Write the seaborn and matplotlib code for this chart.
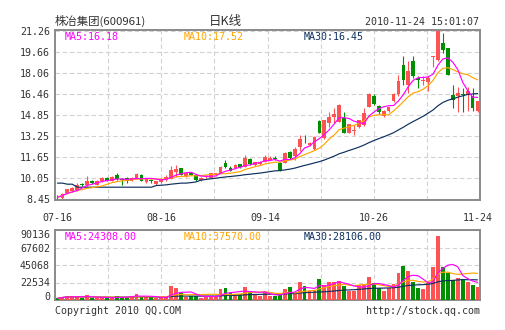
import numpy as np
import pandas as pd
import matplotlib
matplotlib.use("Agg")
import matplotlib.pyplot as plt
import seaborn as sns

# ---------------- data ----------------
dates = ["07-16", "08-16", "09-14", "10-26", "11-24"]
date_idx = [0, 21, 42, 64, 85]

open_ = [8.62, 8.50, 8.87, 9.05, 9.15, 9.58, 9.50, 9.85, 9.55, 9.80,
         10.05, 9.85, 10.30, 9.98, 10.05, 9.85, 10.06, 10.30, 9.75, 9.90,
         9.58, 9.72, 9.90, 10.00, 10.50, 10.80, 10.15, 10.45, 10.30, 9.90,
         10.10, 10.08, 10.25, 10.42, 11.20, 10.85, 10.80, 11.10, 10.92, 11.50,
         11.05, 11.10, 11.30, 11.45, 11.55, 11.20, 11.23, 12.05, 11.70, 12.40,
         12.90, 12.57, 12.25, 14.40, 13.10, 14.23, 14.73, 14.35, 14.60, 13.50,
         13.60, 13.97, 14.10, 15.50, 16.33, 15.57, 14.76, 15.14, 15.90, 16.46,
         18.70, 17.17, 19.00, 17.68, 17.45, 17.38, 19.28, 19.05, 20.35, 19.97,
         16.41, 16.28, 16.43, 16.41, 16.28, 15.14]
high = [8.75, 8.88, 9.25, 9.35, 9.70, 9.65, 10.20, 9.90, 9.90, 10.10,
        10.10, 10.20, 10.40, 10.05, 10.10, 10.10, 10.40, 10.35, 10.00, 9.95,
        9.85, 10.05, 10.30, 10.97, 11.05, 10.85, 10.45, 10.50, 10.35, 10.10,
        10.25, 10.45, 10.45, 10.95, 11.40, 11.00, 11.10, 11.15, 11.82, 11.55,
        11.30, 11.35, 11.80, 11.70, 11.70, 11.30, 12.00, 12.10, 12.45, 13.30,
        13.35, 12.80, 13.25, 14.45, 14.50, 15.10, 15.37, 15.70, 15.10, 14.20,
        14.10, 14.50, 15.37, 16.56, 16.45, 15.60, 15.25, 15.50, 16.55, 17.93,
        19.33, 18.95, 19.33, 17.80, 17.86, 17.86, 19.38, 21.26, 21.11, 20.00,
        17.12, 16.97, 16.92, 16.97, 16.92, 15.95]
low = [8.45, 8.45, 8.85, 9.00, 9.05, 9.45, 9.45, 9.60, 9.50, 9.75,
       9.80, 9.80, 9.90, 9.50, 9.70, 9.80, 10.00, 9.80, 9.70, 9.70,
       9.55, 9.68, 9.85, 9.95, 10.15, 10.25, 10.10, 10.25, 9.85, 9.85,
       10.05, 10.05, 10.20, 10.40, 10.85, 10.60, 10.75, 10.85, 10.90, 11.05,
       11.00, 11.05, 11.25, 11.40, 11.40, 10.60, 11.20, 11.50, 11.45, 12.10,
       12.70, 12.50, 12.20, 13.45, 13.00, 13.97, 14.23, 14.30, 13.45, 13.45,
       13.34, 13.90, 14.05, 15.45, 15.60, 14.95, 14.70, 15.10, 15.85, 16.28,
       17.17, 16.54, 17.68, 16.92, 17.17, 16.66, 18.54, 19.00, 19.58, 17.90,
       15.39, 15.09, 15.09, 15.14, 15.14, 15.10]
close = [8.58, 8.85, 9.22, 9.30, 9.55, 9.52, 9.85, 9.65, 9.85, 10.05,
         9.85, 10.15, 9.96, 9.87, 9.85, 10.05, 10.36, 9.85, 9.98, 9.86,
         9.80, 10.00, 10.15, 10.67, 10.75, 10.30, 10.42, 10.30, 9.90, 10.08,
         10.20, 10.42, 10.42, 10.92, 10.87, 10.62, 11.05, 10.88, 11.60, 11.10,
         11.26, 11.30, 11.65, 11.60, 11.50, 10.65, 11.97, 11.56, 12.30, 13.00,
         12.85, 12.75, 13.20, 13.50, 14.48, 14.73, 14.94, 15.60, 13.50, 14.17,
         13.72, 14.48, 15.00, 16.45, 15.70, 15.05, 15.19, 15.44, 16.49, 17.48,
         17.50, 18.24, 17.80, 17.50, 17.55, 17.68, 19.33, 21.26, 19.84, 17.93,
         16.03, 16.54, 16.41, 16.71, 15.39, 15.95]
volume = [2100, 4300, 5100, 5100, 4300, 2100, 6000, 3000, 3000, 3000,
          2100, 3000, 5100, 3400, 4300, 5100, 7700, 4300, 3400, 3400,
          3000, 3400, 3400, 18000, 15000, 9400, 4300, 5100, 5100, 3000,
          5100, 5100, 3400, 14200, 15500, 9400, 8000, 7700, 16700, 12000,
          7700, 5600, 9900, 5100, 5100, 6400, 14100, 17200, 7700, 23600,
          18000, 12000, 12900, 27000, 19300, 23600, 23600, 24500, 18000, 12000,
          12000, 19300, 20200, 30000, 22300, 15000, 11600, 15000, 20200, 35200,
          44200, 37300, 22700, 15900, 13700, 21500, 43000, 82400, 42500, 35200,
          25800, 27900, 26600, 22700, 19300, 17200]
# MA30 of price for the first 29 sessions (needs earlier history)
ma30_head = [9.66, 9.66, 9.58, 9.58, 9.35, 9.35, 9.35, 9.35, 9.35, 9.35,
             9.35, 9.35, 9.35, 9.35, 9.35, 9.35, 9.35, 9.35, 9.35, 9.35,
             9.48, 9.50, 9.53, 9.58, 9.62, 9.66, 9.66, 9.70, 9.75]

price_ticks = [8.45, 10.05, 11.65, 13.25, 14.85, 16.46, 18.06, 19.66, 21.26]
vol_ticks = [0, 22534, 45068, 67602, 90136]

title_name = "株冶集团(600961)"
title_mid = "日K线"
title_time = "2010-11-24 15:01:07"
price_ma_labels = ["MA5:16.18", "MA10:17.52", "MA30:16.45"]
vol_ma_labels = ["MA5:24308.00", "MA10:37570.00", "MA30:28106.00"]
copyright_txt = "Copyright 2010 QQ.COM"
url_txt = "http://stock.qq.com"

# ---------------- styling ----------------
RED = "#ff5252"
GREEN = "#008f00"
MAGENTA = "#ff00ff"
ORANGE = "#ffa500"
NAVY = "#0c2f5e"
TXT = "#333333"
GRID = "#d2d2d2"
FRAME = "#8a8a8a"
MONO = ["DejaVu Sans Mono"]
CJK = ["Noto Sans CJK SC", "DejaVu Sans"]

sns.set_style("white")
plt.rcParams["font.family"] = MONO

n = len(close)
df = pd.DataFrame({"idx": np.arange(n), "open": open_, "high": high,
                   "low": low, "close": close, "volume": volume})
df["dir"] = np.where(df["close"] >= df["open"], "up", "down")
palette = {"up": RED, "down": GREEN}
df["col"] = df["dir"].map(palette)

df["ma5"] = df["close"].rolling(5, min_periods=1).mean()
df["ma10"] = df["close"].rolling(10, min_periods=1).mean()
ma30 = df["close"].rolling(30).mean().to_numpy()
ma30[:len(ma30_head)] = ma30_head
df["ma30"] = ma30
df["vma5"] = df["volume"].rolling(5, min_periods=1).mean()
df["vma10"] = df["volume"].rolling(10, min_periods=1).mean()
df["vma30"] = df["volume"].rolling(30, min_periods=1).mean()

W, H = 505, 330
fig = plt.figure(figsize=(W / 100, H / 100), dpi=100)
fig.patch.set_facecolor("white")


def fx(px):
    return px / W


def fy(py):
    return 1 - py / H


ax = fig.add_axes([fx(55), fy(200), 425 / W, 170 / H])
axv = fig.add_axes([fx(55), fy(300), 425 / W, 70 / H])

# ---------------- candles ----------------
body_lo = np.minimum(df["open"], df["close"])
body_h = np.maximum(np.abs(df["close"] - df["open"]), 0.05)
ax.vlines(df["idx"], df["low"], df["high"], colors=df["col"], lw=0.8, zorder=2)
ax.bar(df["idx"], body_h, bottom=body_lo, width=0.76, color=df["col"],
       linewidth=0, zorder=3)

for col, c in [("ma30", NAVY), ("ma10", ORANGE), ("ma5", MAGENTA)]:
    sns.lineplot(data=df, x="idx", y=col, ax=ax, color=c, lw=0.85, zorder=4)

# ---------------- volume ----------------
sns.barplot(data=df, x="idx", y="volume", hue="dir", palette=palette,
            order=list(range(n)), dodge=False, width=0.78, saturation=1,
            errorbar=None, legend=False, ax=axv, linewidth=0, zorder=3)
for col, c in [("vma30", NAVY), ("vma10", ORANGE), ("vma5", MAGENTA)]:
    sns.lineplot(data=df, x="idx", y=col, ax=axv, color=c, lw=0.85, zorder=4)

# ---------------- axes cosmetics ----------------
xmin, xmax = -0.5, n - 0.5
for a in (ax, axv):
    a.set_xlim(xmin, xmax)
    a.set_xlabel("")
    a.set_ylabel("")
    a.set_axisbelow(True)
    a.set_facecolor("white")
    for s in a.spines.values():
        s.set_color(FRAME)
        s.set_linewidth(1.4)
        s.set_visible(True)
    for k in range(1, 8):
        a.axvline(xmin + k * (xmax - xmin) / 8, color=GRID, lw=0.8,
                  ls=(0, (4, 2.5)), zorder=1)
    a.yaxis.grid(True, color=GRID, lw=0.8, ls=(0, (4, 2.5)))
    a.xaxis.grid(False)
    a.tick_params(axis="both", length=0, labelsize=7.2, labelcolor=TXT)
    a.tick_params(axis="y", pad=3.6)

ax.set_ylim(8.374, 21.336)
ax.set_yticks(price_ticks)
ax.set_yticklabels([f"{t:.2f}" for t in price_ticks])
ax.set_xticks(date_idx)
ax.set_xticklabels(dates)
ax.tick_params(axis="x", pad=9.5)

axv.set_ylim(0, vol_ticks[-1])
axv.set_yticks(vol_ticks)
axv.set_yticklabels([str(t) for t in vol_ticks])
axv.set_xticks([])
ylabs = axv.get_yticklabels()
ylabs[0].set_va("baseline")
ylabs[-1].set_va("top")

# ---------------- texts ----------------
fig.text(fx(55), fy(21), title_name, family=CJK, fontsize=8.2, color=TXT,
         ha="left", va="center")
fig.text(fx(225), fy(21), title_mid, family=CJK, fontsize=9, color=TXT,
         ha="center", va="center")
fig.text(fx(479), fy(22), title_time, family=MONO, fontsize=7.2, color=TXT,
         ha="right", va="center")

for lab, c, px in zip(price_ma_labels, [MAGENTA, ORANGE, NAVY], [65, 184, 304]):
    fig.text(fx(px), fy(36.5), lab, family=MONO, fontsize=7.2, color=c,
             ha="left", va="center")
for lab, c, px in zip(vol_ma_labels, [MAGENTA, ORANGE, NAVY], [65, 184, 304]):
    fig.text(fx(px), fy(236.5), lab, family=MONO, fontsize=7.2, color=c,
             ha="left", va="center")

fig.text(fx(55), fy(311), copyright_txt, family=MONO, fontsize=7.2,
         color=TXT, ha="left", va="center")
fig.text(fx(480), fy(311), url_txt, family=MONO, fontsize=7.2,
         color=TXT, ha="right", va="center")

fig.savefig("out.png", dpi=100, facecolor="white")
